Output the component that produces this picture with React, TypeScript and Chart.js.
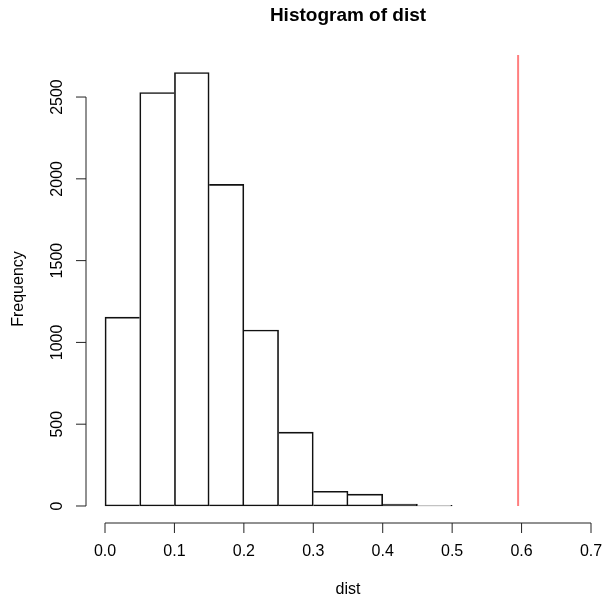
import React, { useEffect, useRef } from "react";
import { Chart, registerables } from "chart.js";

Chart.register(...registerables);

// ---- data ----
const binStarts = [0, 0.05, 0.1, 0.15, 0.2, 0.25, 0.3, 0.35, 0.4, 0.45];
const binWidth = 0.05;
const counts = [1155, 2528, 2650, 1966, 1076, 452, 90, 73, 12, 4];
const xTicks = [0, 0.1, 0.2, 0.3, 0.4, 0.5, 0.6, 0.7];
const xTickLabels = ["0.0", "0.1", "0.2", "0.3", "0.4", "0.5", "0.6", "0.7"];
const yTicks = [0, 500, 1000, 1500, 2000, 2500];
const yTickLabels = ["0", "500", "1000", "1500", "2000", "2500"];
const observedValue = 0.595;
const observedLineTop = 2757;
const titleText = "Histogram of dist";
const xLabel = "dist";
const yLabel = "Frequency";

const FONT = '"Liberation Sans", Arial, Helvetica, sans-serif';

const rAxesPlugin = {
  id: "rAxes",
  afterDraw(chart: any) {
    const ctx = chart.ctx as CanvasRenderingContext2D;
    const xs = chart.scales.x;
    const ys = chart.scales.y;
    const area = chart.chartArea;
    const axisY = area.bottom;
    const axisX = area.left;
    const tick = 10;
    const centerX = 348;
    ctx.save();
    ctx.strokeStyle = "#222";
    ctx.lineWidth = 1;
    ctx.beginPath();
    const xa = xs.getPixelForValue(xTicks[0]);
    const xb = xs.getPixelForValue(xTicks[xTicks.length - 1]);
    ctx.moveTo(xa, axisY);
    ctx.lineTo(xb, axisY);
    xTicks.forEach((t) => {
      const px = xs.getPixelForValue(t);
      ctx.moveTo(px, axisY);
      ctx.lineTo(px, axisY + tick);
    });
    const ya = ys.getPixelForValue(yTicks[0]);
    const yb = ys.getPixelForValue(yTicks[yTicks.length - 1]);
    ctx.moveTo(axisX, ya);
    ctx.lineTo(axisX, yb);
    yTicks.forEach((t) => {
      const py = ys.getPixelForValue(t);
      ctx.moveTo(axisX, py);
      ctx.lineTo(axisX - tick, py);
    });
    ctx.stroke();

    ctx.fillStyle = "#000";
    ctx.font = `16px ${FONT}`;
    ctx.textAlign = "center";
    ctx.textBaseline = "middle";
    xTicks.forEach((t, i) => {
      ctx.fillText(xTickLabels[i], xs.getPixelForValue(t), axisY + 29);
    });
    yTicks.forEach((t, i) => {
      const py = ys.getPixelForValue(t);
      ctx.save();
      ctx.translate(axisX - 28, py);
      ctx.rotate(-Math.PI / 2);
      ctx.fillText(yTickLabels[i], 0, 0);
      ctx.restore();
    });
    ctx.fillText(xLabel, centerX, 590);
    ctx.save();
    ctx.translate(19, (area.top + area.bottom) / 2);
    ctx.rotate(-Math.PI / 2);
    ctx.fillText(yLabel, 0, 0);
    ctx.restore();
    ctx.font = `bold 19px ${FONT}`;
    ctx.fillText(titleText, centerX, 16);
    ctx.restore();
  },
};

function edgeWidths(i: number) {
  const h = counts[i];
  const prev = i > 0 ? counts[i - 1] : -1;
  const next = i < counts.length - 1 ? counts[i + 1] : -1;
  return {
    top: 1,
    bottom: 1,
    left: h >= prev ? 1 : 0,
    right: h > next ? 1 : 0,
  };
}

export default function App() {
  const ref = useRef<HTMLCanvasElement | null>(null);
  useEffect(() => {
    document.body.style.margin = "0";
    const canvas = ref.current;
    if (!canvas) return;
    const chart = new Chart(canvas, {
      type: "bar",
      data: {
        datasets: [
          {
            type: "bar",
            data: binStarts.map((s, i) => ({ x: s + binWidth / 2, y: counts[i] })),
            backgroundColor: "rgba(255,255,255,0)",
            borderColor: "#111",
            borderWidth: (c: any) => edgeWidths(c.dataIndex),
            borderSkipped: false,
            barPercentage: 1,
            categoryPercentage: 1,
          } as any,
          {
            type: "line",
            data: [
              { x: observedValue, y: 0 },
              { x: observedValue, y: observedLineTop },
            ],
            borderColor: "rgba(255,0,0,0.5)",
            borderWidth: 2,
            pointRadius: 0,
            fill: false,
          } as any,
        ],
      },
      options: {
        animation: false,
        responsive: false,
        layout: { padding: { left: 86, top: 55, right: 0, bottom: 77 } },
        scales: {
          x: { type: "linear", offset: false, min: -0.02737, max: 0.71872, display: false },
          y: { type: "linear", min: -104, max: 2757, display: false },
        },
        plugins: {
          legend: { display: false },
          tooltip: { enabled: false },
        },
      },
      plugins: [rAxesPlugin],
    });
    return () => chart.destroy();
  }, []);
  return <canvas ref={ref} width={604} height={600} style={{ display: "block" }} />;
}
